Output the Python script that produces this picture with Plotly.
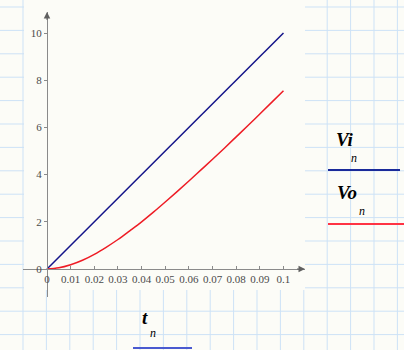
import plotly.graph_objects as go

# ---- data ----
t_vals = [0, 0.005, 0.01, 0.015, 0.02, 0.025, 0.03, 0.035, 0.04, 0.045, 0.05,
          0.055, 0.06, 0.065, 0.07, 0.075, 0.08, 0.085, 0.09, 0.095, 0.1]
vi_vals = [0, 0.5, 1.0, 1.5, 2.0, 2.5, 3.0, 3.5, 4.0, 4.5, 5.0,
           5.5, 6.0, 6.5, 7.0, 7.5, 8.0, 8.5, 9.0, 9.5, 10.0]
vo_vals = [0, 0.05, 0.18, 0.37, 0.62, 0.92, 1.25, 1.62, 2.0, 2.41, 2.84,
           3.28, 3.73, 4.19, 4.65, 5.12, 5.60, 6.08, 6.57, 7.06, 7.55]
x_tick_vals = [0, 0.01, 0.02, 0.03, 0.04, 0.05, 0.06, 0.07, 0.08, 0.09, 0.1]
x_tick_text = ["0", "0.01", "0.02", "0.03", "0.04", "0.05", "0.06", "0.07", "0.08", "0.09", "0.1"]
y_tick_vals = [0, 2, 4, 6, 8, 10]
y_tick_text = ["0", "2", "4", "6", "8", "10"]

W, H = 404, 350
BG = "#fcfcf7"
GRID = "#cde2f6"
AXC = "#8a8a8a"
X_RANGE = [-0.01015, 0.1091]
Y_RANGE = [-1.186, 10.89]
SERIF = "Times New Roman, Liberation Serif, serif"

def px(x):
    return x / W

def py(y):
    return 1 - y / H

fig = go.Figure()
fig.add_trace(go.Scatter(x=t_vals, y=vi_vals, mode="lines",
                         line=dict(color="#14148a", width=1.5), showlegend=False))
fig.add_trace(go.Scatter(x=t_vals, y=vo_vals, mode="lines", line_shape="spline",
                         line=dict(color="#ee1c25", width=1.5), showlegend=False))

shapes = []
# worksheet grid
step = 23.4
k = 0
while 23 + k * step < W:
    xv = 23 + k * step
    shapes.append(dict(type="line", xref="paper", yref="paper", x0=px(xv), x1=px(xv),
                       y0=0, y1=1, line=dict(color=GRID, width=1), layer="below"))
    k += 1
k = 0
while 7 + k * step < H:
    yv = 7 + k * step
    shapes.append(dict(type="line", xref="paper", yref="paper", x0=0, x1=1,
                       y0=py(yv), y1=py(yv), line=dict(color=GRID, width=1), layer="below"))
    k += 1
# blank plot region
shapes.append(dict(type="rect", xref="paper", yref="paper", x0=px(24), x1=px(305),
                   y0=py(290), y1=1, fillcolor=BG, line=dict(width=0), layer="below"))
# legend lines
shapes.append(dict(type="line", xref="paper", yref="paper", x0=px(328), x1=px(400),
                   y0=py(170), y1=py(170), line=dict(color="#1a2a9a", width=2), layer="above"))
shapes.append(dict(type="line", xref="paper", yref="paper", x0=px(328), x1=px(404),
                   y0=py(224), y1=py(224), line=dict(color="#ff3344", width=2), layer="above"))
shapes.append(dict(type="line", xref="paper", yref="paper", x0=px(133), x1=px(192),
                   y0=py(348), y1=py(348), line=dict(color="#4a5ad0", width=2), layer="above"))

annotations = []
def label(text, x, y, size):
    annotations.append(dict(text=text, xref="paper", yref="paper", x=px(x), y=py(y),
                            xanchor="center", yanchor="middle", showarrow=False,
                            font=dict(family=SERIF, size=size, color="#000000")))

label("<b><i>Vi</i></b>", 345, 139, 19)
label("<i>n</i>", 354, 158, 12)
label("<b><i>Vo</i></b>", 347, 193, 19)
label("<i>n</i>", 362, 211, 12)
label("<b><i>t</i></b>", 145, 317, 19)
label("<i>n</i>", 153, 333, 12)

# axis arrows
annotations.append(dict(x=X_RANGE[1], y=0, ax=X_RANGE[1] - 0.004, ay=0,
                        xref="x", yref="y", axref="x", ayref="y", text="",
                        showarrow=True, arrowhead=2, arrowsize=1.3, arrowwidth=1,
                        arrowcolor="#606060"))
annotations.append(dict(x=0, y=Y_RANGE[1], ax=0, ay=Y_RANGE[1] - 0.4,
                        xref="x", yref="y", axref="x", ayref="y", text="",
                        showarrow=True, arrowhead=2, arrowsize=1.3, arrowwidth=1,
                        arrowcolor="#606060"))

fig.update_layout(
    width=W, height=H, margin=dict(l=0, r=0, t=0, b=0),
    paper_bgcolor=BG, plot_bgcolor="rgba(0,0,0,0)",
    font=dict(family=SERIF),
    shapes=shapes, annotations=annotations, showlegend=False,
    xaxis=dict(domain=[px(23), px(305)], range=X_RANGE, anchor="free",
               position=py(269), showline=True, linecolor=AXC, linewidth=1,
               showgrid=False, zeroline=False, ticks="inside", ticklen=3,
               tickcolor=AXC, tickvals=x_tick_vals, ticktext=x_tick_text,
               tickfont=dict(family=SERIF, size=11, color="#4a4a4a")),
    yaxis=dict(domain=[py(297), py(12)], range=Y_RANGE, anchor="free",
               position=px(47), showline=True, linecolor=AXC, linewidth=1,
               showgrid=False, zeroline=False, ticks="outside", ticklen=3,
               tickcolor=AXC, tickvals=y_tick_vals, ticktext=y_tick_text,
               tickfont=dict(family=SERIF, size=11, color="#4a4a4a")),
)

fig.write_html("out.html")
